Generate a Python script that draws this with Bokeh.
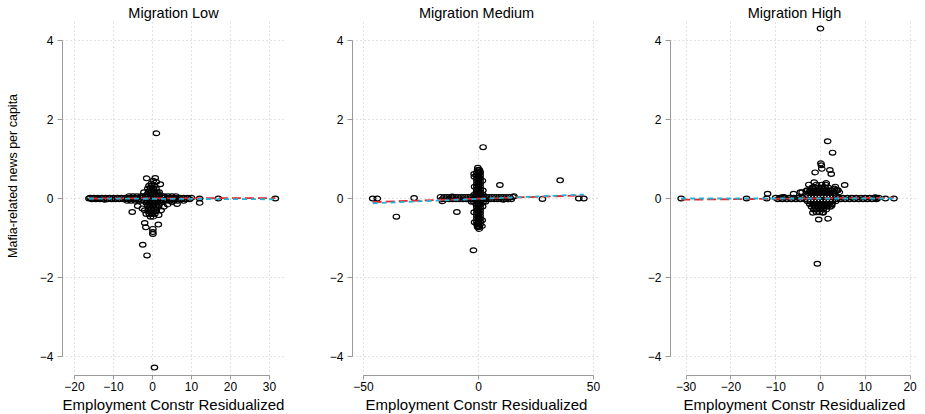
import math
from bokeh.plotting import figure
from bokeh.layouts import row
from bokeh.models import Range1d, FixedTicker, ColumnDataSource, Title
from bokeh.embed import file_html
from bokeh.resources import INLINE

FONT = "Liberation Sans"

titles = ["Migration Low", "Migration Medium", "Migration High"]
x_title = "Employment Constr Residualized"
y_title = "Mafia-related news per capita"

y_ticks = [-4, -2, 0, 2, 4]
x_ticks_low = [-20, -10, 0, 10, 20, 30]
x_ticks_med = [-50, 0, 50]
x_ticks_high = [-30, -20, -10, 0, 10, 20]

# ---- scattered points (x, y) ----
low_pts = [
    (1.0, 1.65), (-1.5, 0.51), (0.7, 0.52), (-0.3, 0.38), (2.0, 0.36), (-2.2, 0.16), (1.7, 0.16),
    (-5.2, -0.34), (-3.8, -0.19), (-2.6, -0.25), (-1.6, -0.39), (1.6, -0.42), (2.9, -0.21),
    (3.9, -0.15), (5.0, -0.09), (6.3, -0.14), (-2.0, -0.3), (2.2, -0.3),
    (-2.0, -0.62), (-1.7, -0.73), (1.5, -0.66), (0.1, -0.77), (0.1, -0.85), (0.1, -0.9),
    (-2.5, -1.17), (-1.4, -1.44), (1.0, 0.42), (0.2, 0.45),
    (12.1, 0.0), (12.1, -0.11), (16.9, 0.0), (31.5, 0.0), (-16.3, 0.0), (-14.2, 0.0),
    (-12.1, -0.03), (0.5, -4.28),
]
# dense core: y level -> x positions
low_core = {
    0.32: [-0.9, -0.2, 0.5],
    0.25: [-1.2, -0.5, 0.2, 0.9],
    0.18: [-1.0, -0.3, 0.4, 1.1],
    0.11: [-1.3, -0.6, 0.1, 0.8, 1.5],
    0.06: [-6.0, -5.0, -4.0, -3.0, -2.5, -1.8, -1.1, -0.4, 0.3, 1.0, 1.7, 2.4, 3.0, 4.0, 5.0, 6.0],
    0.02: [-16.0, -15.0, -14.0, -13.0, -12.0, -11.0, -10.0, -9.0, -8.0, -7.0, -6.0, -5.0,
           -4.0, -3.0, 3.0, 4.0, 5.0, 6.0, 7.0, 8.0, 9.0, 10.0],
    -0.02: [-15.5, -14.5, -13.5, -12.5, -11.5, -10.5, -9.5, -8.5, -7.5, -6.5, -5.5, -4.5,
            -3.5, 3.5, 4.5, 5.5, 6.5, 7.5, 8.5, 9.5],
    -0.06: [-6.5, -5.5, -4.5, -3.5, -2.8, -2.1, -1.4, -0.7, 0.0, 0.7, 1.4, 2.1, 2.8, 3.5, 4.5, 5.5, 6.5, 8.0],
    -0.11: [-1.6, -0.9, -0.2, 0.5, 1.2, 1.9],
    -0.18: [-1.2, -0.5, 0.2, 0.9, 1.6],
    -0.25: [-1.0, -0.3, 0.4, 1.1],
    -0.32: [-1.1, -0.4, 0.3, 1.0],
    -0.39: [-0.8, -0.1, 0.6],
    -0.46: [-0.5, 0.2],
}

med_pts = [
    (2.0, 1.30), (9.3, 0.34), (35.5, 0.46), (-9.4, -0.34), (-35.7, -0.46), (-2.2, -1.31),
    (-46.0, 0.0), (-44.0, 0.0), (-28.0, 0.01), (-15.7, -0.07), (-11.4, 0.05), (15.4, 0.06),
    (11.0, -0.03), (27.8, -0.01), (43.6, 0.0), (45.8, 0.0),
    (-0.3, 0.78), (0.6, 0.68), (0.3, -0.77), (-0.2, -0.7), (-1.8, 0.55), (1.7, 0.45),
    (-1.9, -0.35), (1.6, -0.55), (1.9, 0.2), (-1.9, 0.62), (1.5, -0.7), (-1.7, 0.3),
    (1.8, -0.2), (-1.7, -0.6),
]
med_core = {
    0.72: [-0.4, 0.4],
    0.65: [-0.7, 0.0, 0.7],
    0.58: [-0.7, 0.0, 0.7],
    0.51: [-0.7, 0.0, 0.7],
    0.44: [-0.7, 0.0, 0.7],
    0.37: [-0.7, 0.0, 0.7],
    0.30: [-0.7, 0.0, 0.7],
    0.23: [-0.7, 0.0, 0.7],
    0.16: [-0.9, 0.0, 0.9],
    0.09: [-2.0, -1.0, 0.0, 1.0, 2.0],
    0.04: [-16.5, -15.0, -13.5, -12.0, -10.5, -9.0, -7.5, -6.0, -4.5, -3.0, -1.5, 0.0,
           1.5, 3.0, 4.5, 6.0, 7.5, 9.0, 10.5, 12.0, 13.5, 15.0],
    -0.02: [-15.75, -14.25, -12.75, -11.25, -9.75, -8.25, -6.75, -5.25, -3.75, -2.25, -0.75,
            0.75, 2.25, 3.75, 5.25, 6.75, 8.25, 9.75, 11.25, 12.75, 14.25],
    -0.08: [-3.0, -2.0, -1.0, 0.0, 1.0, 2.0, 3.0],
    -0.16: [-0.9, 0.0, 0.9],
    -0.23: [-0.7, 0.0, 0.7],
    -0.30: [-0.7, 0.0, 0.7],
    -0.37: [-0.7, 0.0, 0.7],
    -0.44: [-0.7, 0.0, 0.7],
    -0.51: [-0.7, 0.0, 0.7],
    -0.58: [-0.7, 0.0, 0.7],
    -0.65: [-0.7, 0.0, 0.7],
    -0.72: [-0.4, 0.4],
}

high_pts = [
    (0.0, 4.30), (1.6, 1.45), (2.7, 1.16), (0.1, 0.89), (0.2, 0.84), (0.3, 0.75), (-1.2, 0.66),
    (2.1, 0.72), (2.4, 0.62), (5.4, 0.34), (-1.4, 0.41), (1.3, 0.39), (3.9, 0.21), (3.1, 0.25),
    (-0.4, -0.53), (1.7, -0.51), (-1.7, -0.36), (0.6, -0.36), (-0.7, -1.65),
    (-31.1, 0.0), (-16.5, 0.0), (-11.8, 0.12), (-12.0, 0.0), (-8.5, 0.03), (-6.0, 0.12),
    (-4.5, 0.16), (-3.2, 0.19), (-2.2, 0.2), (12.3, 0.03), (12.6, 0.0), (14.5, 0.0), (16.4, 0.0),
    (2.5, -0.18), (3.6, 0.22), (4.2, 0.16), (-4.1, 0.16), (-3.0, 0.21), (-8.2, 0.04),
    (3.3, 0.3), (-2.6, 0.35),
]
high_core = {
    0.35: [-0.9, 0.3, 1.2],
    0.28: [-1.8, -1.1, -0.4, 0.3, 1.0, 1.7],
    0.21: [-2.3, -1.6, -0.9, -0.2, 0.5, 1.2, 1.9, 2.6],
    0.14: [-2.6, -1.9, -1.2, -0.5, 0.2, 0.9, 1.6, 2.3, 3.0],
    0.07: [-2.8, -2.1, -1.4, -0.7, 0.0, 0.7, 1.4, 2.1, 2.8, 3.5],
    0.02: [-10.0, -9.0, -8.0, -7.0, -6.0, -5.0, -4.0, 4.0, 5.0, 6.0, 7.0, 8.0, 9.0, 10.0,
           11.0, 12.0, 13.0],
    -0.02: [-9.5, -8.5, -7.5, -6.5, -5.5, -4.5, -3.5, 3.5, 4.5, 5.5, 6.5, 7.5, 8.5, 9.5,
            10.5, 11.5, 12.5],
    -0.07: [-2.9, -2.2, -1.5, -0.8, -0.1, 0.6, 1.3, 2.0, 2.7, 3.4],
    -0.14: [-2.4, -1.7, -1.0, -0.3, 0.4, 1.1, 1.8, 2.5],
    -0.21: [-2.0, -1.3, -0.6, 0.1, 0.8, 1.5, 2.2],
    -0.28: [-1.5, -0.8, -0.1, 0.6, 1.3],
    -0.35: [-0.9, -0.2, 0.5],
}

# ---- fitted lines (end points) ----
low_red_x, low_red_y = [-16.3, 31.5], [0.0, 0.01]
low_cyan_x, low_cyan_y = [-16.3, 31.5], [0.0, -0.02]
med_red_x, med_red_y = [-46.0, 45.8], [-0.09, 0.08]
med_cyan_x, med_cyan_y = [-46.0, 45.8], [-0.12, 0.10]
high_red_x, high_red_y = [-31.1, 16.4], [-0.03, 0.02]
high_cyan_x, high_cyan_y = [-31.1, 16.4], [0.0, 0.0]

RED = "#e8242b"
CYAN = "#1fb4d6"
AXIS_GRAY = "#9a9a9a"
GRID = "#c4c4c4"

MT, FH, MB = 21, 354, 39
Y0, Y1 = -4.48, 4.48


def panel(title, pts, core, rx, ry, cx, cy, xticks, xr, xb, ml, fw, mr, ylab):
    p = figure(frame_width=fw, frame_height=FH, min_border_left=ml, min_border_right=mr,
               min_border_top=MT, min_border_bottom=MB, title=None,
               x_range=Range1d(*xr), y_range=Range1d(Y0, Y1),
               toolbar_location=None, output_backend="svg")
    p.outline_line_color = None
    p.background_fill_color = "white"
    p.border_fill_color = "white"

    p.add_layout(Title(text=title, align="center", text_font=FONT, text_font_size="14.5px",
                       text_font_style="normal", text_color="black", standoff=1), "above")

    for ax, ticks, b in ((p.xaxis[0], xticks, xb), (p.yaxis[0], y_ticks, (-4, 4))):
        ax.ticker = FixedTicker(ticks=ticks)
        ax.bounds = b
        ax.axis_line_color = AXIS_GRAY
        ax.major_tick_line_color = AXIS_GRAY
        ax.minor_tick_line_color = None
        ax.major_tick_in = 0
        ax.major_label_text_font = FONT
        ax.major_label_text_font_size = "12px"
        ax.major_label_text_color = "black"
        ax.axis_label_text_font = FONT
        ax.axis_label_text_font_style = "normal"
        ax.axis_label_text_color = "black"
    xa = p.xaxis[0]
    xa.major_tick_out = 4
    xa.major_label_standoff = 2
    xa.axis_label = x_title
    xa.axis_label_text_font_size = "15px"
    xa.axis_label_standoff = 2
    ya = p.yaxis[0]
    ya.major_tick_out = 5
    ya.major_label_standoff = 4
    if ylab:
        ya.axis_label = "\u00a0" * 13 + y_title
        ya.axis_label_text_font_size = "12.5px"
        ya.axis_label_standoff = 17

    for g in (p.xgrid[0], p.ygrid[0]):
        g.grid_line_color = GRID
        g.grid_line_dash = "1 3"
        g.grid_line_width = 1

    xs = [a for a, b in pts]
    ys = [b for a, b in pts]
    for yv, xl in core.items():
        for xv in xl:
            xs.append(xv)
            ys.append(yv)
    src = ColumnDataSource(dict(x=xs, y=ys))
    p.ellipse(x="x", y="y", width=6.5, height=4.8, width_units="screen", height_units="screen",
              fill_color=None, line_color="black", line_width=1.2, source=src)

    p.line(rx, ry, line_color=RED, line_width=1.8, line_dash="9 4")
    p.line(cx, cy, line_color=CYAN, line_width=1.8, line_dash="5 4")
    return p


p1 = panel(titles[0], low_pts, low_core, low_red_x, low_red_y, low_cyan_x, low_cyan_y,
           x_ticks_low, (-23.08, 33.85), (-20, 30), 62, 222, 34, True)
p2 = panel(titles[1], med_pts, med_core, med_red_x, med_red_y, med_cyan_x, med_cyan_y,
           x_ticks_med, (-54.78, 53.04), (-50, 50), 34, 248, 30, False)
p3 = panel(titles[2], high_pts, high_core, high_red_x, high_red_y, high_cyan_x, high_cyan_y,
           x_ticks_high, (-33.48, 21.88), (-30, 20), 40, 248, 7, False)

layout = row(p1, p2, p3)
open("out.html", "w").write(file_html(layout, INLINE))
